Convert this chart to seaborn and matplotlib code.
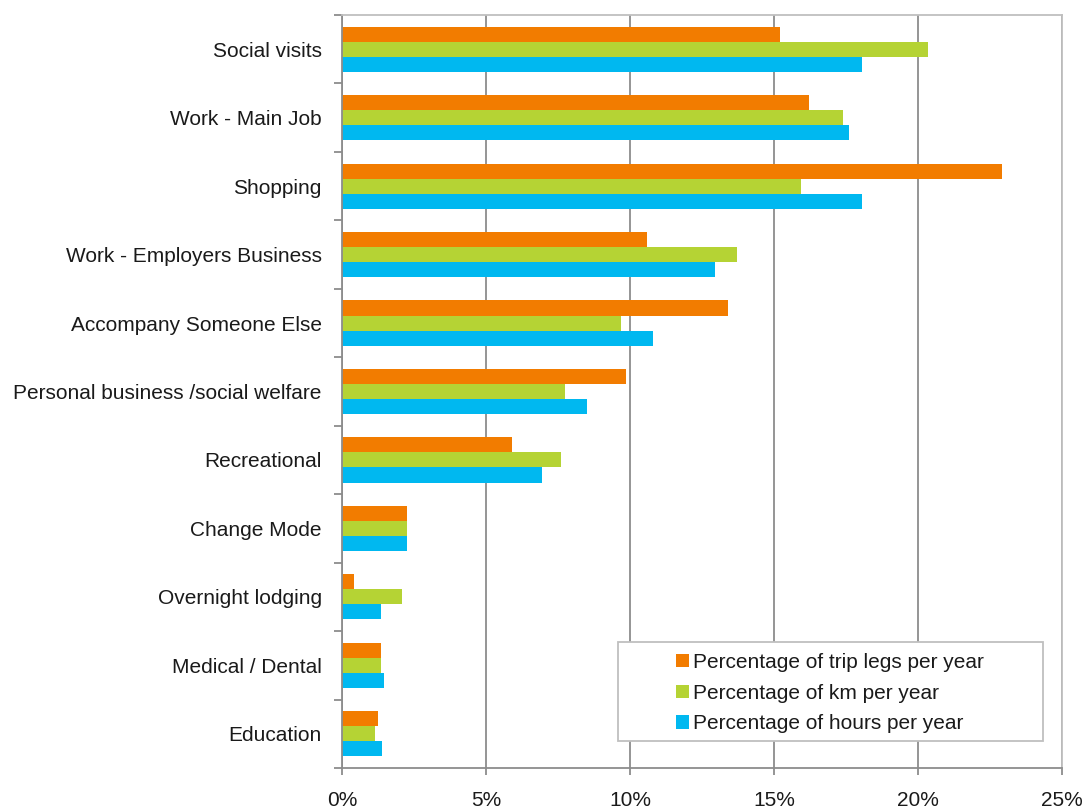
import matplotlib
matplotlib.use("Agg")
import matplotlib.pyplot as plt
from matplotlib.patches import Rectangle
import numpy as np
import pandas as pd
import seaborn as sns

# Trip purposes, top to bottom
purposes = [
    "Social visits",
    "Work - Main Job",
    "Shopping",
    "Work - Employers Business",
    "Accompany Someone Else",
    "Personal business /social welfare",
    "Recreational",
    "Change Mode",
    "Overnight lodging",
    "Medical / Dental",
    "Education",
]

# Shares (%) per purpose
trip_legs = [15.2, 16.2, 22.9, 10.6, 13.4, 9.85, 5.9, 2.25, 0.4, 1.35, 1.25]
km = [20.35, 17.4, 15.95, 13.7, 9.7, 7.75, 7.6, 2.25, 2.1, 1.35, 1.15]
hours = [18.05, 17.6, 18.05, 12.95, 10.8, 8.5, 6.95, 2.25, 1.35, 1.45, 1.4]

series_names = [
    "Percentage of trip legs per year",
    "Percentage of km per year",
    "Percentage of hours per year",
]
series_colors = ["#F27C00", "#B5D334", "#00B8F0"]

df = pd.DataFrame({
    "purpose": purposes * 3,
    "value": trip_legs + km + hours,
    "series": [s for s in series_names for _ in purposes],
})

sns.set_style("white")
plt.rcParams["font.family"] = ["Liberation Sans", "DejaVu Sans"]
plt.rcParams["font.size"] = 15

fig = plt.figure(figsize=(10.83, 8.09), dpi=100)
ax = fig.add_axes([342 / 1083, 1 - 768 / 809, 720 / 1083, 753 / 809])

sns.barplot(
    data=df, x="value", y="purpose", hue="series",
    order=purposes, hue_order=series_names,
    palette=series_colors, width=0.66, orient="h",
    saturation=1, linewidth=0, ax=ax, legend=True,
)

n = len(purposes)
ax.set_xlim(0, 25)
ax.set_ylim(n - 0.5, -0.5)
ax.set_xlabel("")
ax.set_ylabel("")

# vertical gridlines
ax.set_xticks(np.arange(0, 26, 5))
ax.set_xticklabels([f"{v}%" for v in range(0, 26, 5)])
ax.xaxis.grid(True, color="#8C8C8C", linewidth=1.3)
ax.yaxis.grid(False)
ax.set_axisbelow(True)

# category boundary ticks on the y axis, labels at centres
ax.set_yticks(np.arange(-0.5, n, 1.0))
ax.set_yticklabels([])
ax.set_yticks(np.arange(n), minor=True)
ax.set_yticklabels(purposes, minor=True)
ax.tick_params(axis="y", which="major", length=6, width=1.3, color="#8C8C8C", direction="out", left=True)
ax.tick_params(axis="y", which="minor", length=0, pad=14.5, labelsize=15, colors="#1a1a1a")
ax.tick_params(axis="x", which="major", length=5, width=1.3, color="#8C8C8C", direction="out",
               bottom=True, pad=11.5, labelsize=15, labelcolor="#1a1a1a")

for side in ["left", "bottom"]:
    ax.spines[side].set_color("#8C8C8C")
    ax.spines[side].set_linewidth(1.3)
for side in ["top", "right"]:
    ax.spines[side].set_color("#BFBFBF")
    ax.spines[side].set_linewidth(1.3)
    ax.spines[side].set_visible(True)

# legend with a wide box behind it
handles, labels = ax.get_legend_handles_labels()
ax.get_legend().remove()
fig.patches.append(Rectangle((618 / 1083, 1 - 741 / 809), 425 / 1083, 99 / 809,
                             transform=fig.transFigure, facecolor="white",
                             edgecolor="#BFBFBF", linewidth=1.3, zorder=5))
leg = fig.legend(handles, labels, loc="upper left",
                 bbox_to_anchor=(676 / 1083, 1 - 653 / 809),
                 frameon=False, fontsize=15, borderpad=0, borderaxespad=0,
                 handlelength=0.6, handleheight=0.6, handletextpad=0.2,
                 labelspacing=0.56)
leg.set_zorder(6)
for t in leg.get_texts():
    t.set_color("#1a1a1a")

fig.savefig("out.png", dpi=100)
